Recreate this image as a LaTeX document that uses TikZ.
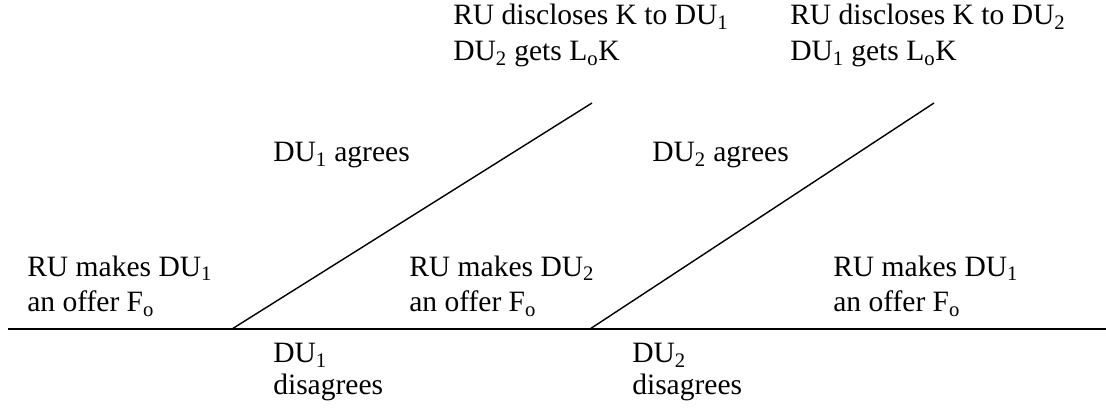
\documentclass[tikz,border=0pt]{standalone}
\usepackage{fontspec}
\setmainfont{Liberation Serif}
\usetikzlibrary{positioning}
\newcommand{\sub}[1]{\textsubscript{#1}}
\tikzset{
  lbl/.style={anchor=base west,inner sep=0pt,align=left,font=\fontsize{21}{25.6}\selectfont},
  lblb/.style={lbl,font=\fontsize{21}{22.2}\selectfont},
  branch/.style={line width=1pt}
}
\begin{document}
\begin{tikzpicture}[x=0.025cm,y=-0.025cm]
\useasboundingbox (0,0) rectangle (1106,413);
% time line and branches
\coordinate (start) at (8,329);
\coordinate (stop) at (1106,329);
\coordinate (b1) at (232,329);
\coordinate (t1) at (592,103);
\coordinate (b2) at (590,329);
\coordinate (t2) at (934,103);
\draw[branch] (start) -- (stop);
\draw[branch] (b1) -- (t1);
\draw[branch] (b2) -- (t2);
% offers
\node[lbl] (offer1) at (27,312) {RU makes DU\sub{1}\\an offer F\sub{o}};
\node[lbl] (offer2) at (409,312) {RU makes DU\sub{2}\\an offer F\sub{o}};
\node[lbl] (offer3) at (833,312) {RU makes DU\sub{1}\\an offer F\sub{o}};
% answers
\node[lbl] (agree1) at (273,162) {DU\sub{1} agrees};
\node[lbl] (agree2) at (652,162) {DU\sub{2} agrees};
\node[lblb] (dis1) at (273,394) {DU\sub{1}\\disagrees};
\node[lblb] (dis2) at (632,394) {DU\sub{2}\\disagrees};
% outcomes
\node[lbl] (out1) at (453,61) {RU discloses K to DU\sub{1}\\DU\sub{2} gets L\sub{o}K};
\node[lbl] (out2) at (790,61) {RU discloses K to DU\sub{2}\\DU\sub{1} gets L\sub{o}K};
\end{tikzpicture}
\end{document}
